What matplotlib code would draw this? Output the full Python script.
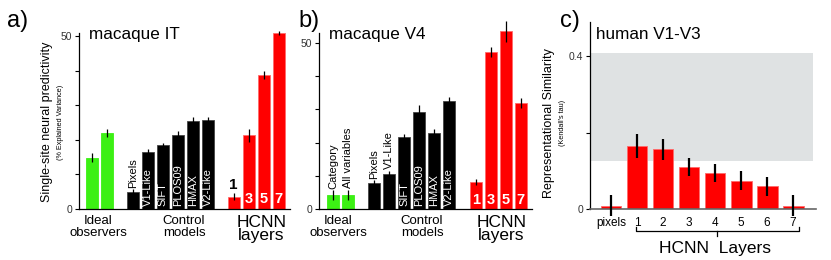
import numpy as np
import matplotlib
matplotlib.use("Agg")
import matplotlib.pyplot as plt
from matplotlib.transforms import blended_transform_factory

plt.rcParams["font.family"] = ["Liberation Sans", "DejaVu Sans"]

W, H = 831, 260

# ── data: panel a (macaque IT) ────────────────────────────────────
a_ideal = [14.9, 22.0]
a_ideal_err = [1.3, 1.2]
a_control = [4.8, 16.6, 18.6, 21.3, 25.5, 25.8]
a_control_err = [1.0, 0.7, 0.6, 1.4, 1.3, 0.9]
a_hcnn = [3.6, 21.3, 38.8, 51.0]
a_hcnn_err = [1.0, 1.8, 1.2, 0.6]

# ── data: panel b (macaque V4) ────────────────────────────────────
b_ideal = [4.2, 4.3]
b_ideal_err = [1.4, 1.5]
b_control = [7.7, 10.5, 21.6, 29.3, 23.0, 32.4]
b_control_err = [1.0, 1.0, 1.0, 2.1, 1.2, 1.4]
b_hcnn = [8.1, 47.2, 53.5, 32.0]
b_hcnn_err = [0.9, 1.5, 3.2, 1.5]

ideal_names = ["Category", "All variables"]
control_names = ["Pixels", "V1-Like", "SIFT", "PLOS09", "HMAX", "V2-Like"]
hcnn_names = ["1", "3", "5", "7"]

# ── data: panel c (human V1-V3) ───────────────────────────────────
c_names = ["pixels", "1", "2", "3", "4", "5", "6", "7"]
c_vals = [0.009, 0.165, 0.156, 0.110, 0.095, 0.074, 0.059, 0.009]
c_err = [0.028, 0.031, 0.028, 0.024, 0.024, 0.025, 0.025, 0.028]
c_ceiling = [0.125, 0.41]

# ── style ─────────────────────────────────────────────────────────
GREEN = "#3cf014"
RED = "#ff0000"
RED_EDGE = "#ff6a6a"
GRAY_BAND = "#dfe2e3"
TICK_COL = "#333333"


def px_axes(fig, left, top, right, bottom):
    return fig.add_axes([left / W, 1 - bottom / H, (right - left) / W,
                         (bottom - top) / H])


def ftext(fig, x, y, s, **kw):
    fig.text(x / W, 1 - y / H, s, **kw)


def _style(ax):
    for s in ("top", "right"):
        ax.spines[s].set_visible(False)
    for s in ("left", "bottom"):
        ax.spines[s].set_linewidth(0.9)
    ax.tick_params(axis="y", length=3, width=0.8, labelsize=7.5, pad=2,
                   labelcolor=TICK_COL)


def macaque_panel(ax, ideal, ideal_err, control, control_err, hcnn, hcnn_err,
                  gap, xlim, ymax, show_ideal_names):
    x_ideal = np.arange(len(ideal))
    x_ctrl = x_ideal[-1] + gap + np.arange(len(control))
    x_hcnn = x_ctrl[-1] + gap + np.arange(len(hcnn))

    groups = [(x_ideal, ideal, ideal_err, GREEN, GREEN),
              (x_ctrl, control, control_err, "black", "#444444"),
              (x_hcnn, hcnn, hcnn_err, RED, RED_EDGE)]
    for xs, v, e, col, ec in groups:
        v = np.asarray(v)
        e = np.asarray(e)
        ax.bar(xs, v, width=0.8, color=col, edgecolor=ec, lw=0.6,
               zorder=2, clip_on=False)
        ax.vlines(xs, v - e, v + e, color="black", lw=0.9, zorder=3,
                  clip_on=False)

    if show_ideal_names:
        for x, v, e, name in zip(x_ideal, ideal, ideal_err, ideal_names):
            ax.text(x, v + e + 0.4, name, rotation=90, ha="center",
                    va="bottom", fontsize=8)

    for x, v, e, name in zip(x_ctrl, control, control_err, control_names):
        if v > 12:
            ax.text(x, 0.8, name, rotation=90, ha="center", va="bottom",
                    fontsize=8, color="white")
        else:
            ax.text(x, v + e + 0.4, name, rotation=90, ha="center",
                    va="bottom", fontsize=8)

    for x, v, e, name in zip(x_hcnn, hcnn, hcnn_err, hcnn_names):
        if v > 6:
            ax.text(x, 2.8, name, ha="center", va="center", fontsize=10.5,
                    fontweight="bold", color="white")
        else:
            ax.text(x, v + e + 0.3, name, ha="center", va="bottom",
                    fontsize=11, fontweight="bold")

    ax.set_xlim(*xlim)
    ax.set_ylim(0, ymax)
    ax.set_xticks([])
    ax.set_yticks(np.arange(0, 51, 10))
    ax.set_yticklabels(["0", "", "", "", "", "50"])
    _style(ax)


fig = plt.figure(figsize=(W / 100, H / 100), dpi=100)
fig.patch.set_facecolor("white")

# (a) macaque IT
ax_a = px_axes(fig, 79, 33, 290, 209)
macaque_panel(ax_a, a_ideal, a_ideal_err, a_control, a_control_err,
              a_hcnn, a_hcnn_err, gap=1.72, xlim=(-0.87, 13.2), ymax=51,
              show_ideal_names=False)

# (b) macaque V4
ax_b = px_axes(fig, 319, 33, 532, 209)
macaque_panel(ax_b, b_ideal, b_ideal_err, b_control, b_control_err,
              b_hcnn, b_hcnn_err, gap=1.76, xlim=(-0.93, 13.27), ymax=53,
              show_ideal_names=True)

# (c) human V1-V3
ax_c = px_axes(fig, 590, 22, 816, 209)
xc = np.arange(len(c_vals))
cv = np.asarray(c_vals)
ce = np.asarray(c_err)
ax_c.axhspan(c_ceiling[0], c_ceiling[1], xmin=0, xmax=0.987,
             color=GRAY_BAND, lw=0, zorder=0)
ax_c.bar(xc, cv, width=0.8, color=RED, edgecolor=RED_EDGE, lw=0.6, zorder=2)
ax_c.vlines(xc, cv - ce, cv + ce, color="black", lw=1.6, zorder=3,
            clip_on=False)
ax_c.set_xlim(-0.81, 7.88)
ax_c.set_ylim(0, 0.49)
ax_c.set_yticks([0, 0.2, 0.4])
ax_c.set_yticklabels(["0", "", "0.4"])
ax_c.set_xticks(xc)
ax_c.set_xticklabels(c_names)
_style(ax_c)
ax_c.spines["bottom"].set_color("#666666")
ax_c.spines["bottom"].set_linewidth(1.2)
ax_c.tick_params(axis="x", length=0, pad=6, labelsize=8.5)

# bracket under HCNN layers
tr = blended_transform_factory(ax_c.transData, ax_c.transAxes)
bl, br = xc[1] - 0.05, xc[-1] + 0.22
bm = (bl + br) / 2
ax_c.plot([bl, bl, br, br], [-0.096, -0.118, -0.118, -0.096], color="black",
          lw=0.9, transform=tr, clip_on=False)
ax_c.plot([bm, bm], [-0.118, -0.145], color="black", lw=0.9, transform=tr,
          clip_on=False)

# ── figure-level text ─────────────────────────────────────────────
for x, s in [(7, "a)"), (298, "b)"), (560, "c)")]:
    ftext(fig, x, 27, s, fontsize=17, va="baseline", ha="left")

for x, s in [(89, "macaque IT"), (329, "macaque V4"), (596, "human V1-V3")]:
    ftext(fig, x, 39, s, fontsize=12.3, va="baseline", ha="left")

ftext(fig, 47, 122, "Single-site neural predictivity", rotation=90,
      fontsize=9, ha="center", va="center")
ftext(fig, 61, 122, "(% Explained Variance)", rotation=90, fontsize=5.2,
      ha="center", va="center")
ftext(fig, 549, 123, "Representational Similarity", rotation=90,
      fontsize=9, ha="center", va="center")
ftext(fig, 563, 123, "(Kendall's tau)", rotation=90, fontsize=5.2,
      ha="center", va="center")

for xi, xc_, xh in [(98, 184, 261.5), (338, 422, 501.5)]:
    ftext(fig, xi, 215, "Ideal\nobservers", fontsize=9.5, ha="center",
          va="top", linespacing=1.0)
    ftext(fig, xc_, 215, "Control\nmodels", fontsize=9.5, ha="center",
          va="top", linespacing=1.0)
    ftext(fig, xh, 215, "HCNN\nlayers", fontsize=12.5, ha="center",
          va="top", linespacing=0.8)

ftext(fig, 715, 241, "HCNN  Layers", fontsize=12.5, ha="center", va="top")

fig.savefig("out.png", dpi=100, facecolor="white")
